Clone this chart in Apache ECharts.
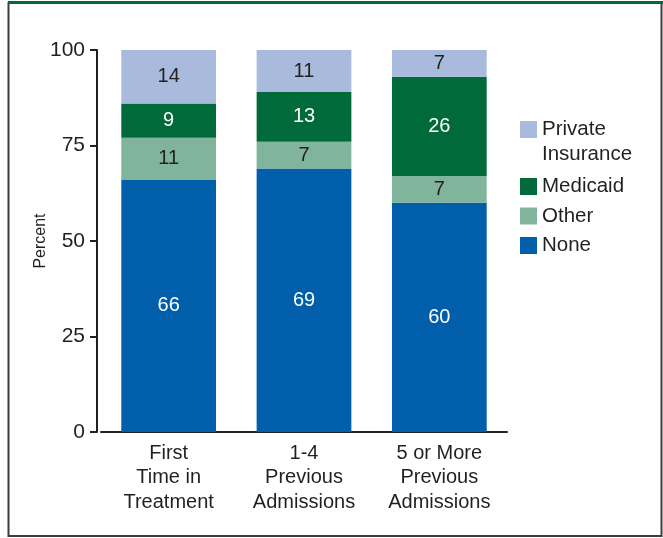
<!DOCTYPE html>
<html>
<head>
<meta charset="utf-8">
<script src="https://cdn.jsdelivr.net/npm/echarts@6/dist/echarts.min.js"></script>
<style>
  html, body { margin: 0; padding: 0; background: #fff; }
  #chart { width: 663px; height: 538px; }
</style>
</head>
<body>
<div id="chart"></div>
<script>
const categories = ["First\nTime in\nTreatment", "1-4\nPrevious\nAdmissions", "5 or More\nPrevious\nAdmissions"];
const none = [66, 69, 60];
const other = [11, 7, 7];
const medicaid = [9, 13, 26];
const privateIns = [14, 11, 7];
const yTicks = [0, 25, 50, 75, 100];

const textColor = "#231f20";
const font = "Liberation Sans, Arial, sans-serif";

function barSeries(name, data, color, labelColor) {
  return {
    name: name,
    type: "bar",
    stack: "total",
    barWidth: "70%",
    data: data,
    itemStyle: { color: color },
    label: {
      show: true,
      position: "inside",
      color: labelColor,
      fontSize: 20,
      fontFamily: font,
    },
  };
}

const chart = echarts.init(document.getElementById("chart"));
chart.setOption({
  animation: false,
  backgroundColor: "#fff",
  graphic: [
    {
      type: "rect",
      shape: { x: 8.5, y: 3, width: 653, height: 533 },
      style: { fill: "none", stroke: "#3d3d3d", lineWidth: 2 },
    },
    {
      type: "line",
      shape: { x1: 8, y1: 2.5, x2: 663, y2: 2.5 },
      style: { stroke: "#006a3a", lineWidth: 3 },
    },
  ],
  legend: [
    {
      left: 515,
      top: 87,
      itemWidth: 17,
      itemHeight: 17,
      icon: "rect",
      data: ["Private\nInsurance"],
      formatter: function (n) { return "\n" + n; },
      textStyle: { color: textColor, fontSize: 20.5, fontFamily: font, lineHeight: 25 },
    },
    {
      left: 515,
      top: 171,
      orient: "vertical",
      itemGap: 8.5,
      itemWidth: 17,
      itemHeight: 17,
      icon: "rect",
      data: ["Medicaid", "Other", "None"],
      textStyle: { color: textColor, fontSize: 20.5, fontFamily: font },
    },
  ],
  grid: { left: 101, right: 156, top: 50, bottom: 106 },
  xAxis: {
    type: "category",
    data: categories,
    axisLine: { lineStyle: { color: textColor, width: 2 } },
    axisTick: { show: false },
    axisLabel: { color: textColor, fontSize: 20, fontFamily: font, lineHeight: 24.5, margin: 9 },
  },
  yAxis: {
    type: "value",
    min: yTicks[0],
    max: yTicks[yTicks.length - 1],
    interval: 25,
    offset: 4,
    name: "Percent",
    nameLocation: "middle",
    nameGap: 48,
    nameMoveOverlap: false,
    nameTextStyle: { color: textColor, fontSize: 16, fontFamily: font },
    splitLine: { show: false },
    axisLine: { show: true, lineStyle: { color: textColor, width: 2 } },
    axisTick: { show: true, length: 7, lineStyle: { color: textColor, width: 2 } },
    axisLabel: { color: textColor, fontSize: 21, fontFamily: font, margin: 12 },
  },
  series: [
    barSeries("None", none, "#005eaa", "#ffffff"),
    barSeries("Other", other, "#80b49c", textColor),
    barSeries("Medicaid", medicaid, "#006a3a", "#ffffff"),
    barSeries("Private\nInsurance", privateIns, "#a9bbdd", textColor),
  ],
});
</script>
</body>
</html>
